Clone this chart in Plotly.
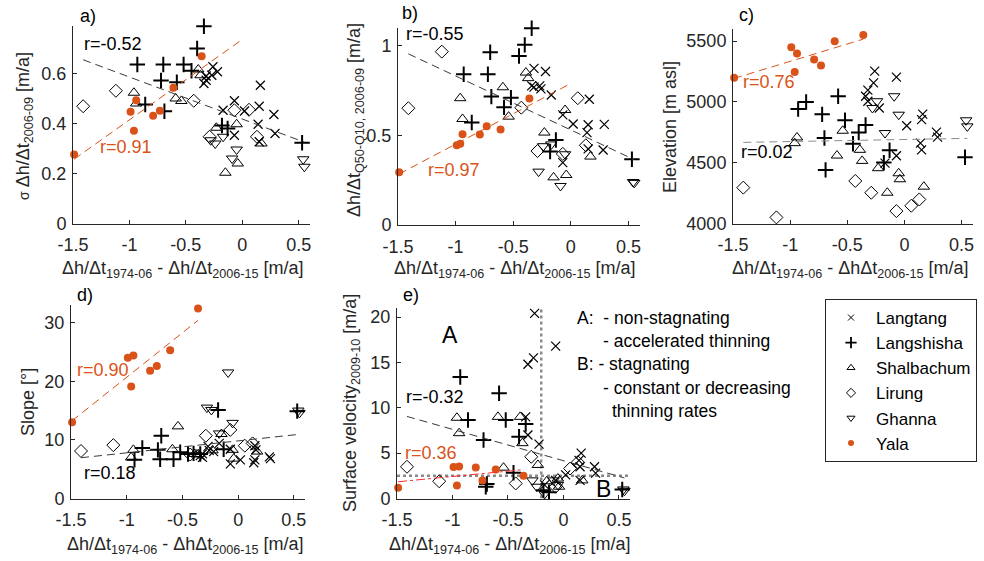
import numpy as np
import plotly.graph_objects as go

# ---------------------------------------------------------------------------
# Elevation-band statistics per glacier.
# *_DH    : dh/dt(1974-06) - dh/dt(2006-15)  [m/a]  (shared x for all panels)
# *_SIG   : sigma of dh/dt 2006-09            [m/a]
# *_IQR   : dh/dt Q50-Q10, 2006-09            [m/a]
# *_ELEV  : elevation                         [m asl]
# *_SLOPE : surface slope                     [deg]
# *_VEL   : surface velocity 2009-10          [m/a]
# ---------------------------------------------------------------------------
LANGTANG_DH = [-0.34, -0.32, -0.32, -0.27, -0.26, -0.22, -0.17, -0.07, -0.07, 0.02,
               0.14, 0.15, 0.15, 0.16, 0.28, 0.29]
LANGTANG_SIG = [0.56, 0.573, 0.59, 0.593, 0.627, 0.607, 0.453, 0.491, 0.353, 0.45,
                0.397, 0.469, 0.327, 0.553, 0.436, 0.36]
LANGTANG_IQR = [0.777, 0.875, 0.77, 0.777, 0.76, 0.857, 0.726, 0.615, 0.348, 0.564,
                0.516, 0.425, 0.56, 0.702, 0.419, 0.562]
LANGTANG_ELEV = [5047, 5097, 5006, 5157, 5254, 4950, 4496, 5204, 4557, 4804,
                 4661, 4854, 4606, 4900, 4752, 4711]
LANGTANG_SLOPE = [7.3, 7.0, 7.6, 8.9, 8.2, 8.0, 9.4, 5.9, 8.4, 6.6,
                  6.1, 9.0, 6.6, 8.3, 7.1, 6.8]
LANGTANG_VEL = [9.0, 14.8, 7.0, 15.5, 20.4, 6.0, 1.5, 16.8, 2.0, 2.6,
                4.2, 3.5, 2.0, 5.0, 3.5, 2.8]

LANGSHISHA_DH = [-0.93, -0.86, -0.72, -0.70, -0.69, -0.58, -0.52, -0.45, -0.40, -0.34,
                 -0.18, -0.13, 0.53]
LANGSHISHA_SIG = [0.636, 0.476, 0.572, 0.636, 0.449, 0.565, 0.636, 0.611, 0.70, 0.789,
                  0.392, 0.38, 0.323]
LANGSHISHA_IQR = [0.842, 0.572, 0.842, 0.965, 0.717, 0.657, 0.711, 0.944, 1.006, 1.099,
                  0.41, 0.475, 0.367]
LANGSHISHA_ELEV = [4942, 5000, 4898, 4703, 4441, 5047, 4849, 4656, 4749, 4810,
                   4501, 4603, 4545]
LANGSHISHA_SLOPE = [6.6, 8.6, 8.3, 6.7, 10.7, 6.7, 7.9, 7.6, 7.7, 7.6,
                    15.1, 8.4, 14.9]
LANGSHISHA_VEL = [13.4, 8.65, 6.45, 1.29, 1.6, 11.6, 8.65, 2.84, 6.8, 8.2,
                  0.9, 0.7, 1.0]

SHALBACHUM_DH = [-0.96, -0.94, -0.59, -0.54, -0.39, -0.37, -0.23, -0.15, -0.05, -0.04, 0.17]
SHALBACHUM_SIG = [0.523, 0.48, 0.50, 0.49, 0.616, 0.593, 0.383, 0.203, 0.397, 0.24, 0.32]
SHALBACHUM_IQR = [0.708, 0.592, 0.769, 0.605, 0.851, 0.82, 0.516, 0.266, 0.642, 0.279, 0.382]
SHALBACHUM_ELEV = [4661, 4708, 4559, 4763, 4606, 4515, 4455, 4253, 4413, 4364, 4303]
SHALBACHUM_SLOPE = [7.0, 8.3, 8.4, 12.3, 7.6, 7.5, 8.2, 11.0, 8.3, 6.8, 8.0]
SHALBACHUM_VEL = [8.9, 7.2, 9.0, 3.4, 9.0, 6.1, 3.7, 1.9, 2.2, 1.3, 2.0]

LIRUNG_DH = [-1.41, -1.12, -0.43, -0.29, -0.07, 0.06, 0.13]
LIRUNG_SIG = [0.469, 0.531, 0.491, 0.347, 0.453, 0.455, 0.347]
LIRUNG_IQR = [0.652, 0.968, 0.655, 0.413, 0.397, 0.708, 0.445]
LIRUNG_ELEV = [4295, 4050, 4350, 4253, 4102, 4146, 4198]
LIRUNG_SLOPE = [8.1, 9.1, 7.5, 10.7, 11.7, 9.0, 9.4]
LIRUNG_VEL = [3.5, 1.9, 1.66, 4.6, 1.3, 3.3, 4.0]

GHANNA_DH = [-0.28, -0.24, -0.17, -0.09, -0.05, 0.54, 0.55]
GHANNA_SIG = [0.333, 0.32, 0.347, 0.26, 0.296, 0.257, 0.227]
GHANNA_IQR = [0.298, 0.44, 0.45, 0.218, 0.395, 0.24, 0.235]
GHANNA_ELEV = [4950, 5006, 4744, 5047, 4895, 4849, 4799]
GHANNA_SLOPE = [15.5, 15.1, 11.1, 21.5, 12.9, 15.0, 14.6]
GHANNA_VEL = [2.0, 1.3, 0.5, 2.0, 1.5, 1.0, 0.85]

YALA_DH = [-1.49, -0.99, -0.94, -0.96, -0.79, -0.73, -0.61, -0.36]
YALA_SIG = [0.276, 0.447, 0.493, 0.371, 0.431, 0.451, 0.543, 0.669]
YALA_IQR = [0.294, 0.445, 0.507, 0.453, 0.505, 0.551, 0.533, 0.706]
YALA_ELEV = [5200, 5450, 5398, 5247, 5349, 5299, 5500, 5550]
YALA_SLOPE = [13.0, 24.0, 24.4, 19.1, 21.8, 22.6, 25.3, 32.4]
YALA_VEL = [1.18, 3.46, 3.54, 1.44, 3.43, 1.99, 3.2, 2.5]

# Correlation coefficients printed in each panel (others, Yala)
R_OTHERS = ["-0.52", "-0.55", "0.02", "0.18", "-0.32"]
R_YALA = ["0.91", "0.97", "0.76", "0.90", "0.36"]

# Stagnation thresholds used in panel e
DH_THRESHOLD = -0.2
VEL_THRESHOLD = 2.5

X_TICKS = [-1.5, -1, -0.5, 0, 0.5]
X_TICKTEXT = ["-1.5", "-1", "-0.5", "0", "0.5"]

# ---------------------------------------------------------------------------
W, H = 984, 561
FONT = "Liberation Sans, Arial, Helvetica, sans-serif"
INK = "#262626"
YALA_C = "#D95319"
FS = 18

glaciers = {
    "Langtang": (LANGTANG_DH, [LANGTANG_SIG, LANGTANG_IQR, LANGTANG_ELEV, LANGTANG_SLOPE, LANGTANG_VEL]),
    "Langshisha": (LANGSHISHA_DH, [LANGSHISHA_SIG, LANGSHISHA_IQR, LANGSHISHA_ELEV, LANGSHISHA_SLOPE, LANGSHISHA_VEL]),
    "Shalbachum": (SHALBACHUM_DH, [SHALBACHUM_SIG, SHALBACHUM_IQR, SHALBACHUM_ELEV, SHALBACHUM_SLOPE, SHALBACHUM_VEL]),
    "Lirung": (LIRUNG_DH, [LIRUNG_SIG, LIRUNG_IQR, LIRUNG_ELEV, LIRUNG_SLOPE, LIRUNG_VEL]),
    "Ghanna": (GHANNA_DH, [GHANNA_SIG, GHANNA_IQR, GHANNA_ELEV, GHANNA_SLOPE, GHANNA_VEL]),
    "Yala": (YALA_DH, [YALA_SIG, YALA_IQR, YALA_ELEV, YALA_SLOPE, YALA_VEL]),
}

symbols = {
    "Langtang": ("x-thin-open", 9, 1.2),
    "Langshisha": ("cross-thin-open", 11, 2.0),
    "Shalbachum": ("triangle-up-open", 10, 1.0),
    "Lirung": ("diamond-open", 10, 1.0),
    "Ghanna": ("triangle-down-open", 10, 1.0),
    "Yala": ("circle", 8, 0),
}
legend_sizes = {"Langtang": 6, "Langshisha": 8, "Shalbachum": 7,
                "Lirung": 7, "Ghanna": 7, "Yala": 6}


def marker_for(name, size=None, width=None):
    sym, sz, lw = symbols[name]
    if size is not None:
        sz = size
    if width is not None and lw:
        lw = width
    col = YALA_C if name == "Yala" else "black"
    return dict(symbol=sym, size=sz, color=col, line=dict(width=lw, color=col))


def px_x(p):
    return p / W


def px_y(p):
    return 1 - p / H


# Panel layout: x/y domain in pixels, y range, y ticks, label position
panels = [
    dict(dx=(73, 310), dy=(26, 223.5), yr=[0, 0.79], yt=[0, 0.2, 0.4, 0.6],
         ytt=["0", "0.2", "0.4", "0.6"], yala_end=0.0, label="a)", lab=(78, 16)),
    dict(dx=(398, 640), dy=(28, 225), yr=[0, 1.1], yt=[0, 0.5, 1],
         ytt=["0", "0.5", "1"], yala_end=0.0, label="b)", lab=(400, 13)),
    dict(dx=(733, 973), dy=(29, 223.5), yr=[4000, 5600], yt=[4000, 4500, 5000, 5500],
         ytt=["4000", "4500", "5000", "5500"], yala_end=None, label="c)", lab=(737, 15)),
    dict(dx=(71, 305), dy=(305, 498.5), yr=[0, 33], yt=[0, 10, 20, 30],
         ytt=["0", "10", "20", "30"], yala_end=None, label="d)", lab=(75, 295)),
    dict(dx=(397, 630), dy=(308, 498.5), yr=[0, 21], yt=[0, 5, 10, 15, 20],
         ytt=["0", "5", "10", "15", "20"], yala_end=None, label="e)", lab=(401, 295)),
]

fig = go.Figure()
layout = dict(
    width=W, height=H, margin=dict(l=0, r=0, t=0, b=0, autoexpand=False),
    paper_bgcolor="white", plot_bgcolor="white",
    font=dict(family=FONT, size=FS, color=INK),
    showlegend=True,
    legend=dict(x=px_x(825), y=px_y(299), xanchor="left", yanchor="top",
                bordercolor=INK, borderwidth=1, bgcolor="white",
                font=dict(family=FONT, size=17, color="black"),
                tracegroupgap=0, itemwidth=40),
)
annotations = []

for i, p in enumerate(panels):
    n = i + 1
    xa = "x" if n == 1 else f"x{n}"
    ya = "y" if n == 1 else f"y{n}"
    axis_common = dict(showline=True, linecolor=INK, linewidth=1, ticks="inside",
                       ticklen=4, tickcolor=INK, tickwidth=1, showgrid=False,
                       zeroline=False, automargin=False,
                       tickfont=dict(family=FONT, size=FS, color=INK))
    layout["xaxis" if n == 1 else f"xaxis{n}"] = dict(
        domain=[px_x(p["dx"][0]), px_x(p["dx"][1])], range=[-1.5, 0.6],
        anchor=ya, tickvals=X_TICKS, ticktext=X_TICKTEXT, ticklabelstandoff=5,
        **axis_common)
    layout["yaxis" if n == 1 else f"yaxis{n}"] = dict(
        domain=[px_y(p["dy"][1]), px_y(p["dy"][0])], range=p["yr"],
        anchor=xa, tickvals=p["yt"], ticktext=p["ytt"], ticklabelstandoff=2,
        **axis_common)

    # threshold lines in panel e
    if n == 5:
        fig.add_trace(go.Scatter(x=[DH_THRESHOLD, DH_THRESHOLD], y=[0, p["yr"][1]],
                                 mode="lines", xaxis=xa, yaxis=ya, showlegend=False,
                                 line=dict(color="#8a8a8a", width=2.5, dash="dot"),
                                 hoverinfo="skip"))
        fig.add_trace(go.Scatter(x=[-1.5, 0.6], y=[VEL_THRESHOLD, VEL_THRESHOLD],
                                 mode="lines", xaxis=xa, yaxis=ya, showlegend=False,
                                 line=dict(color="#8a8a8a", width=2.5, dash="dot"),
                                 hoverinfo="skip"))

    # scatter points
    for name, (xs, ys) in glaciers.items():
        fig.add_trace(go.Scatter(x=xs, y=ys[i], mode="markers", name=name,
                                 marker=marker_for(name), xaxis=xa, yaxis=ya,
                                 showlegend=False, legendgroup=name,
                                 cliponaxis=False))

    # linear fit over all glaciers except Yala
    ox = np.concatenate([np.asarray(glaciers[g][0], float) for g in glaciers if g != "Yala"])
    oy = np.concatenate([np.asarray(glaciers[g][1][i], float) for g in glaciers if g != "Yala"])
    k, b = np.polyfit(ox, oy, 1)
    fx = np.array([ox.min(), ox.max()])
    fig.add_trace(go.Scatter(x=fx, y=k * fx + b, mode="lines", xaxis=xa, yaxis=ya,
                             showlegend=False, hoverinfo="skip",
                             line=dict(color="#8c8c8c" if n == 3 else "#3a3a3a",
                                       width=1, dash="8px,5px")))

    # linear fit for Yala
    yx = np.asarray(YALA_DH, float)
    yy = np.asarray(glaciers["Yala"][1][i], float)
    k2, b2 = np.polyfit(yx, yy, 1)
    end = p["yala_end"] if p["yala_end"] is not None else yx.max()
    fx2 = np.array([yx.min(), end])
    fig.add_trace(go.Scatter(x=fx2, y=k2 * fx2 + b2, mode="lines", xaxis=xa, yaxis=ya,
                             showlegend=False, hoverinfo="skip",
                             line=dict(color="#ff2a2a" if n == 5 else YALA_C, width=1,
                                       dash="dashdot" if n == 5 else "8px,5px")))

    # panel label
    annotations.append(dict(text=p["label"], x=px_x(p["lab"][0]), y=px_y(p["lab"][1]),
                            xref="paper", yref="paper", xanchor="left", yanchor="middle",
                            showarrow=False, font=dict(size=FS, color="black")))

# legend entries with compact symbols
for name in glaciers:
    fig.add_trace(go.Scatter(x=[None], y=[None], mode="markers", name=name,
                             marker=marker_for(name, size=legend_sizes[name],
                                               width=1.8 if name == "Langshisha" else 1),
                             showlegend=True, legendgroup=name))

# correlation labels: (left edge px, centre px)
r_pos_others = [(82, 44), (404, 34), (739, 152), (82, 473), (404, 397)]
r_pos_yala = [(98, 147), (426, 170), (741, 82), (75, 370), (403, 453)]
for i in range(5):
    annotations.append(dict(text="r=" + R_OTHERS[i], x=px_x(r_pos_others[i][0]),
                            y=px_y(r_pos_others[i][1]), xref="paper", yref="paper",
                            xanchor="left", yanchor="middle",
                            showarrow=False, font=dict(size=FS, color="black")))
    annotations.append(dict(text="r=" + R_YALA[i], x=px_x(r_pos_yala[i][0]),
                            y=px_y(r_pos_yala[i][1]), xref="paper", yref="paper",
                            xanchor="left", yanchor="middle",
                            showarrow=False, font=dict(size=FS, color=YALA_C)))

# regime labels in panel e
annotations.append(dict(text="A", x=-1.02, y=18.0, xref="x5", yref="y5", showarrow=False,
                        font=dict(size=23, color="black")))
annotations.append(dict(text="B", x=0.36, y=1.0, xref="x5", yref="y5", showarrow=False,
                        font=dict(size=23, color="black")))

# x-axis titles
xt_full = "Δh/Δt<sub>1974-06</sub> - Δh/Δt<sub>2006-15</sub> [m/a]"
xt_short = "Δh/Δt<sub>1974-06</sub> - ΔhΔt<sub>2006-15</sub> [m/a]"
for cx, cy, t in [(183, 270, xt_full), (515, 270, xt_full), (850, 270, xt_short),
                  (185, 545, xt_short), (510, 545, xt_full)]:
    annotations.append(dict(text=t, x=px_x(cx), y=px_y(cy), xref="paper", yref="paper",
                            xanchor="center", yanchor="middle", showarrow=False,
                            font=dict(size=FS, color=INK)))

# y-axis titles
yts = [
    (24, 126, "<span style='font-size:14px'>σ</span> Δh/Δt<sub>2006-09</sub> [m/a]"),
    (356, 120, "Δh/Δt<sub>Q50-Q10, 2006-09</sub> [m/a]"),
    (670, 127, "Elevation [m asl]"),
    (28, 402, "Slope [°]"),
    (351, 403, "Surface velocity<sub>2009-10</sub> [m/a]"),
]
for cx, cy, t in yts:
    annotations.append(dict(text=t, x=px_x(cx), y=px_y(cy), xref="paper", yref="paper",
                            xanchor="center", yanchor="middle", textangle=-90,
                            showarrow=False, font=dict(size=FS, color=INK)))

# description of regimes A and B
for lx, ly, t in [(575, 318, "A:  - non-stagnating"), (601, 341, "- accelerated thinning"),
                  (575, 364, "B: - stagnating"), (601, 388, "- constant or decreasing"),
                  (610, 411, "thinning rates")]:
    annotations.append(dict(text=t, x=px_x(lx), y=px_y(ly), xref="paper", yref="paper",
                            xanchor="left", yanchor="middle", showarrow=False,
                            font=dict(size=17.5, color="black")))

layout["annotations"] = annotations
fig.update_layout(**layout)
fig.write_html("out.html")
